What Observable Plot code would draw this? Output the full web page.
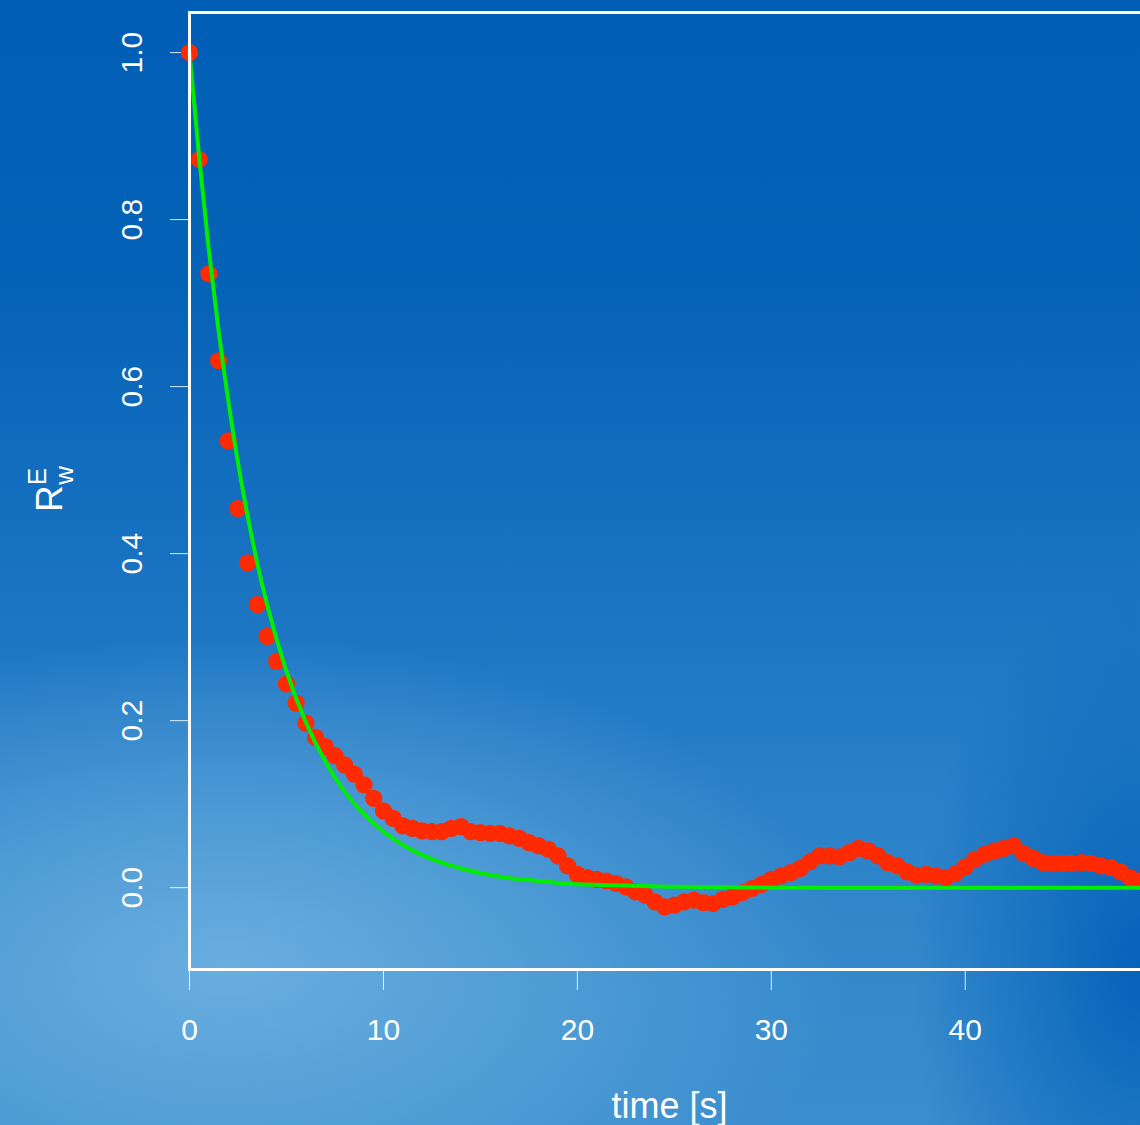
<!DOCTYPE html>
<html>
<head>
<meta charset="utf-8">
<script src="https://cdn.jsdelivr.net/npm/d3@7"></script>
<script src="https://cdn.jsdelivr.net/npm/@observablehq/plot@0.6"></script>
<style>
  html, body { margin: 0; padding: 0; overflow: hidden; }
  #wrap {
    position: relative; width: 1140px; height: 1125px; overflow: hidden;
    background-color: #1e78c4;
    background-image:
      radial-gradient(ellipse 620px 330px at 20% 86%, rgba(108,176,224,0.95) 0%, rgba(108,176,224,0.55) 45%, rgba(108,176,224,0) 100%),
      radial-gradient(ellipse 230px 380px at 100% 86%, rgba(0,94,184,0.9) 0%, rgba(0,94,184,0) 100%),
      linear-gradient(to bottom, #005eb6 0%, #0462b7 25%, #1872c1 50%, #2a80c8 70%, #358acc 88%, #3a8dce 100%);
  }
  #wrap svg { position: absolute; left: 0; top: 0; background: transparent; max-width: none !important; width: 1160px !important; height: 1125px !important; }
</style>
</head>
<body>
<div id="wrap"></div>
<script>
// Measured correlation R_w^E (red dots), t every 0.5 s
const times = [
  0,0.5,1,1.5,2,2.5,3,3.5,4,4.5,5,5.5,6,6.5,7,7.5,8,8.5,9,9.5,
  10,10.5,11,11.5,12,12.5,13,13.5,14,14.5,15,15.5,16,16.5,17,17.5,18,18.5,19,19.5,
  20,20.5,21,21.5,22,22.5,23,23.5,24,24.5,25,25.5,26,26.5,27,27.5,28,28.5,29,29.5,
  30,30.5,31,31.5,32,32.5,33,33.5,34,34.5,35,35.5,36,36.5,37,37.5,38,38.5,39,39.5,
  40,40.5,41,41.5,42,42.5,43,43.5,44,44.5,45,45.5,46,46.5,47,47.5,48,48.5,49
];
const values = [
  1.000,0.872,0.735,0.631,0.535,0.454,0.389,0.339,0.301,0.271,0.244,0.221,0.197,0.180,0.169,0.158,0.147,0.136,0.123,0.107,
  0.092,0.083,0.074,0.071,0.068,0.067,0.067,0.071,0.073,0.067,0.066,0.065,0.065,0.062,0.059,0.054,0.050,0.046,0.038,0.026,
  0.016,0.012,0.010,0.008,0.005,0.001,-0.005,-0.009,-0.017,-0.023,-0.021,-0.017,-0.015,-0.018,-0.019,-0.014,-0.011,-0.006,-0.001,0.004,
  0.010,0.014,0.018,0.023,0.031,0.038,0.038,0.037,0.042,0.047,0.044,0.038,0.030,0.026,0.019,0.015,0.016,0.014,0.012,0.017,
  0.025,0.034,0.040,0.044,0.047,0.050,0.041,0.035,0.030,0.029,0.029,0.029,0.030,0.029,0.026,0.024,0.019,0.012,0.008
];
// Fitted curve (green)
const fitTimes  = [0,0.5,1,1.5,2,2.5,3,3.5,4,5,6,7,8,9,10,11,12,13,14,16,18,20,22,25,30,40,49.5];
const fitValues = [1.0,0.874,0.763,0.667,0.583,0.509,0.445,0.388,0.339,0.259,0.198,0.151,0.115,0.088,0.067,0.051,0.039,0.030,0.023,0.013,0.008,0.004,0.003,0.001,0.0,0.0,0.0];

const xTicks = [0,10,20,30,40];
const yTicks = [0,0.2,0.4,0.6,0.8,1.0];

const pts = times.map((t,i) => ({t, v: values[i]}));
const fit = fitTimes.map((t,i) => ({t, v: fitValues[i]}));

const FONT = "'Liberation Sans', Arial, Helvetica, sans-serif";

const chart = Plot.plot({
  width: 1160,
  height: 1125,
  marginLeft: 189,
  marginRight: 11,
  marginTop: 12,
  marginBottom: 156,
  style: {background: "transparent", color: "white", fontFamily: FONT, overflow: "visible"},
  x: {domain: [0, 49.5]},
  y: {domain: [-0.098, 1.048]},
  marks: [
    Plot.axisX({ticks: xTicks, tickSize: 21, tickPadding: 28, fontSize: 30, stroke: "white", strokeOpacity: 0.85, tickFormat: d => String(d), label: "time [s]", labelArrow: "none", labelAnchor: "center", labelOffset: 148}),
    Plot.axisY({ticks: yTicks, tickSize: 19, stroke: "white", strokeOpacity: 0.85, tickFormat: () => "", label: null}),
    Plot.text(yTicks, {y: d => d, frameAnchor: "left", dx: -57, rotate: -90, textAnchor: "middle", lineAnchor: "middle", text: d => d.toFixed(1), fontSize: 30, fill: "white"}),
    Plot.dot(pts, {x: "t", y: "v", r: 8.6, fill: "#ff2a00", stroke: "none"}),
    Plot.line(fit, {x: "t", y: "v", stroke: "#00ee00", strokeWidth: 4, curve: "monotone-x"}),
    Plot.frame({stroke: "white", strokeWidth: 3})
  ]
});

// axis label: bigger font, no arrow
d3.select(chart).selectAll("[aria-label='x-axis label'] text")
  .attr("font-size", 36)
  .each(function() { this.textContent = this.textContent.replace(/\s*[→←]\s*/g, ""); });

// Y label R^E_w as rotated text
const yl = d3.select(chart).append("text")
  .attr("transform", "translate(62,489) rotate(-90)")
  .attr("fill", "white")
  .attr("font-family", FONT)
  .attr("font-size", 37);
yl.append("tspan").text("R");
yl.append("tspan").attr("dy", -16).attr("font-size", 26).text("E");
yl.append("tspan").attr("dx", -17).attr("dy", 27).attr("font-size", 26).text("w");

document.getElementById("wrap").appendChild(chart);
</script>
</body>
</html>
